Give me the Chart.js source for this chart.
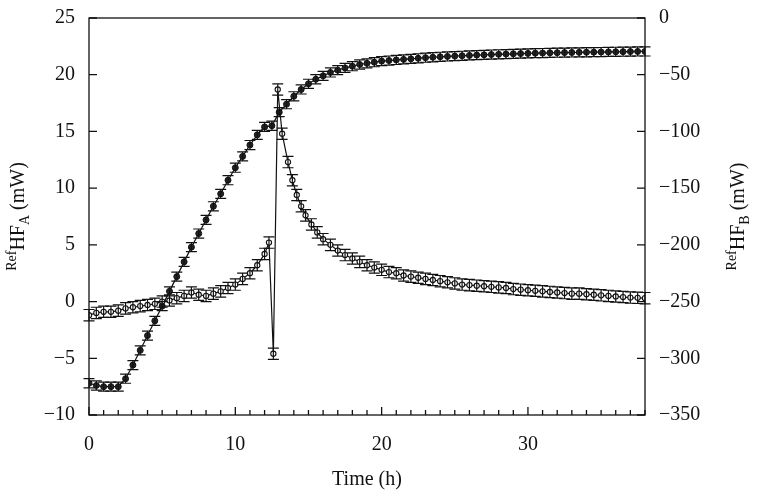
<!DOCTYPE html>
<html>
<head>
<meta charset="utf-8">
<script src="https://cdn.jsdelivr.net/npm/chart.js@4"></script>
<style>
  html, body { margin: 0; padding: 0; background: #fff; }
  #wrap { width: 758px; height: 496px; }
</style>
</head>
<body>
<div id="wrap"><canvas id="chart"></canvas></div>
<script>
// series A (left axis, open circles)
const timeA = [0,0.5,1,1.5,2,2.5,3,3.5,4,4.5,5,5.5,6,6.5,7,7.5,8,8.5,9,9.5,10,10.5,11,11.5,12,12.3,12.6,12.9,13.2,13.6,13.9,14.2,14.5,14.8,15.2,15.6,16,16.5,17,17.5,18,18.5,19,19.5,20,20.5,21,21.5,22,22.5,23,23.5,24,24.5,25,25.5,26,26.5,27,27.5,28,28.5,29,29.5,30,30.5,31,31.5,32,32.5,33,33.5,34,34.5,35,35.5,36,36.5,37,37.5,38];
const valuesA = [-1.2,-1.0,-0.9,-0.9,-0.8,-0.6,-0.5,-0.4,-0.3,-0.2,0,0.1,0.3,0.5,0.8,0.6,0.5,0.7,0.9,1.2,1.5,2.0,2.5,3.2,4.2,5.2,-4.6,18.7,14.8,12.3,10.7,9.4,8.4,7.6,6.8,6.1,5.5,5.0,4.5,4.1,3.8,3.5,3.2,3.0,2.8,2.6,2.5,2.3,2.2,2.1,2.0,1.9,1.8,1.7,1.6,1.5,1.45,1.4,1.35,1.3,1.25,1.2,1.1,1.05,1.0,0.95,0.9,0.85,0.8,0.75,0.7,0.7,0.65,0.6,0.55,0.5,0.45,0.4,0.35,0.33,0.3];
const errA = 0.5;

// series B (right axis, filled)
const timeB = [0,0.5,1,1.5,2,2.5,3,3.5,4,4.5,5,5.5,6,6.5,7,7.5,8,8.5,9,9.5,10,10.5,11,11.5,12,12.5,13,13.5,14,14.5,15,15.5,16,16.5,17,17.5,18,18.5,19,19.5,20,20.5,21,21.5,22,22.5,23,23.5,24,24.5,25,25.5,26,26.5,27,27.5,28,28.5,29,29.5,30,30.5,31,31.5,32,32.5,33,33.5,34,34.5,35,35.5,36,36.5,37,37.5,38];
const valuesB = [-322,-324,-325,-325,-325,-318,-306,-293,-280,-267,-254,-241,-228,-215,-202,-190,-178,-166,-155,-143,-132,-122,-112,-103,-96,-95,-83,-76,-69,-63,-58,-54,-51,-48,-46,-44,-42.5,-41,-40,-39,-38,-37.5,-37,-36.5,-36,-35.5,-35,-34.6,-34.2,-33.9,-33.6,-33.3,-33,-32.7,-32.5,-32.2,-32,-31.8,-31.6,-31.4,-31.2,-31,-30.9,-30.7,-30.6,-30.5,-30.4,-30.3,-30.2,-30.1,-30,-29.9,-29.8,-29.7,-29.6,-29.5,-29.5];
const errB = 4;

const xTicks = [0, 10, 20, 30];
const FONT = 'Liberation Serif, DejaVu Serif, serif';

const errorBars = {
    id: 'errorBars',
    afterDatasetsDraw(chart) {
        const c = chart.ctx;
        c.save();
        c.strokeStyle = '#111';
        c.lineWidth = 1.2;
        chart.data.datasets.forEach((ds, i) => {
            const meta = chart.getDatasetMeta(i);
            const ys = chart.scales[ds.yAxisID];
            ds.data.forEach((p, j) => {
                const x = meta.data[j].x;
                const y1 = ys.getPixelForValue(p.y + ds.err), y2 = ys.getPixelForValue(p.y - ds.err);
                c.beginPath();
                c.moveTo(x, y1); c.lineTo(x, y2);
                c.moveTo(x - 5.5, y1); c.lineTo(x + 5.5, y1);
                c.moveTo(x - 5.5, y2); c.lineTo(x + 5.5, y2);
                c.stroke();
            });
        });
        c.restore();
    }
};

const frame = {
    id: 'frame',
    afterDraw(chart) {
        const c = chart.ctx, a = chart.chartArea;
        const { x, yA, yB } = chart.scales;
        c.save();
        c.strokeStyle = '#111';
        c.lineWidth = 1.3;
        c.strokeRect(a.left, a.top, a.right - a.left, a.bottom - a.top);
        c.beginPath();
        for (let t = 0; t <= 38; t++) {
            const px = x.getPixelForValue(t), len = t % 10 === 0 ? 8 : 5;
            c.moveTo(px, a.bottom); c.lineTo(px, a.bottom - len);
        }
        for (let v = -10; v <= 25; v += 5) {
            const py = yA.getPixelForValue(v);
            c.moveTo(a.left, py); c.lineTo(a.left + 8, py);
        }
        for (let v = -350; v <= 0; v += 50) {
            const py = yB.getPixelForValue(v);
            c.moveTo(a.right, py); c.lineTo(a.right - 8, py);
        }
        c.stroke();

        c.fillStyle = '#111';
        c.textBaseline = 'alphabetic';
        const label = (cx, cy, sub) => {
            c.save();
            c.translate(cx, cy);
            c.rotate(-Math.PI / 2);
            c.font = '14px ' + FONT;
            const w1 = c.measureText('Ref').width;
            c.font = '20px ' + FONT;
            const w2 = c.measureText('HF').width;
            c.font = '14px ' + FONT;
            const w3 = c.measureText(sub).width;
            c.font = '20px ' + FONT;
            const w4 = c.measureText(' (mW)').width;
            let px = -(w1 + w2 + w3 + w4) / 2;
            c.font = '14px ' + FONT; c.fillText('Ref', px, -8); px += w1;
            c.font = '20px ' + FONT; c.fillText('HF', px, 0); px += w2;
            c.font = '14px ' + FONT; c.fillText(sub, px, 5); px += w3;
            c.font = '20px ' + FONT; c.fillText(' (mW)', px, 0);
            c.restore();
        };
        label(24, (a.top + a.bottom) / 2, 'A');
        label(744, (a.top + a.bottom) / 2, 'B');
        c.restore();
    }
};

new Chart(document.getElementById('chart'), {
    type: 'line',
    data: {
        datasets: [
            {
                label: 'A', yAxisID: 'yA', err: errA,
                data: timeA.map((t, i) => ({ x: t, y: valuesA[i] })),
                borderColor: '#111', borderWidth: 1.2, pointRadius: 2.6,
                pointBackgroundColor: '#fff', pointBorderColor: '#111', pointBorderWidth: 1.1, tension: 0
            },
            {
                label: 'B', yAxisID: 'yB', err: errB,
                data: timeB.map((t, i) => ({ x: t, y: valuesB[i] })),
                borderColor: '#111', borderWidth: 1.2, pointRadius: 3,
                pointBackgroundColor: '#222', pointBorderColor: '#111', pointBorderWidth: 1, tension: 0
            }
        ]
    },
    options: {
        responsive: true, maintainAspectRatio: false, animation: false,
        layout: { padding: { top: 17 } },
        plugins: { legend: { display: false }, tooltip: { enabled: false } },
        scales: {
            x: {
                type: 'linear', min: 0, max: 38,
                afterFit: s => { s.height = 81; },
                afterBuildTicks: s => { s.ticks = xTicks.map(v => ({ value: v })); },
                grid: { display: false }, border: { display: false },
                ticks: { color: '#111', font: { family: FONT, size: 20 }, padding: 10 },
                title: { display: true, text: 'Time (h)', color: '#111', font: { family: FONT, size: 20 }, padding: { top: 10 } }
            },
            yA: {
                position: 'left', min: -10, max: 25,
                afterFit: s => { s.width = 89; },
                grid: { display: false }, border: { display: false },
                ticks: { stepSize: 5, color: '#111', font: { family: FONT, size: 20 }, padding: 6,
                    callback: v => v < 0 ? '\u2212' + Math.abs(v) : v }
            },
            yB: {
                position: 'right', min: -350, max: 0,
                afterFit: s => { s.width = 113; },
                grid: { display: false }, border: { display: false },
                ticks: { stepSize: 50, color: '#111', font: { family: FONT, size: 20 }, padding: 6,
                    callback: v => v < 0 ? '\u2212' + Math.abs(v) : v }
            }
        }
    },
    plugins: [errorBars, frame]
});
</script>
</body>
</html>
